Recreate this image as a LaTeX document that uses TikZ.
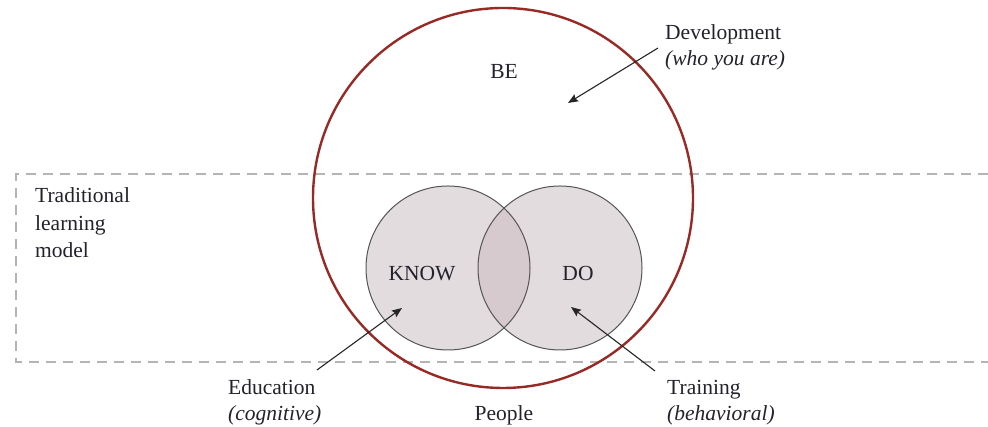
\documentclass[tikz,border=0pt]{standalone}
\usepackage{fontspec}
\setmainfont{Liberation Serif}
\usetikzlibrary{arrows.meta}
\definecolor{ring}{HTML}{982A26}
\definecolor{txt}{HTML}{22222C}
\definecolor{setfill}{HTML}{E3DCDF}
\definecolor{overlap}{HTML}{D6CACE}
\definecolor{setline}{HTML}{555555}
\definecolor{dashcol}{HTML}{B4B4B4}
\begin{document}
\begin{tikzpicture}[x=1pt,y=1pt,
  lbl/.style={font=\fontsize{21.5}{26}\selectfont, text=txt, inner sep=0pt},
  pointer/.style={draw=black!85, line width=1.1pt, -{Stealth[length=10pt,width=8pt,inset=1.5pt]}},
  setcircle/.style={draw=setline, line width=1pt},
  dashbox/.style={draw=dashcol, line width=1.8pt, dash pattern=on 10pt off 7pt}]
\useasboundingbox (0,0) rectangle (988,427);
% dashed traditional-learning box (open at the right)
\draw[dashbox] (988,253) -- (16,253) -- (16,65) -- (988,65);
% big circle
\draw[ring, line width=2.4pt] (503,229) circle[radius=190];
% small circles
\fill[setfill] (448,159) circle[radius=82];
\fill[setfill] (560,159) circle[radius=82];
\begin{scope}
  \clip (448,159) circle[radius=82];
  \fill[overlap] (560,159) circle[radius=82];
\end{scope}
\draw[setcircle] (448,159) circle[radius=82];
\draw[setcircle] (560,159) circle[radius=82];
% labels
\node[lbl, anchor=base] (be) at (504,348) {BE};
\node[lbl, anchor=base] (know) at (422,146) {KNOW};
\node[lbl, anchor=base] (do) at (578,146) {DO};
\node[lbl, anchor=base] (people) at (504,6) {People};
\node[lbl, anchor=base west] (trad1) at (35,224) {Traditional};
\node[lbl, anchor=base west] (trad2) at (35,196) {learning};
\node[lbl, anchor=base west] (trad3) at (35,169) {model};
\node[lbl, anchor=base west] (dev1) at (665,387) {Development};
\node[lbl, anchor=base west] (dev2) at (665,361) {\itshape (who you are)};
\node[lbl, anchor=base west] (edu1) at (228,32) {Education};
\node[lbl, anchor=base west] (edu2) at (228,6) {\itshape (cognitive)};
\node[lbl, anchor=base west] (tra1) at (667,32) {Training};
\node[lbl, anchor=base west] (tra2) at (667,6) {\itshape (behavioral)};
% pointer ends
\coordinate (devS) at (658,379);
\coordinate (devE) at (568,324);
\coordinate (eduS) at (317,57);
\coordinate (eduE) at (402,119);
\coordinate (traS) at (655,56);
\coordinate (traE) at (571,120);
\draw[pointer] (devS) -- (devE);
\draw[pointer] (eduS) -- (eduE);
\draw[pointer] (traS) -- (traE);
\end{tikzpicture}
\end{document}
